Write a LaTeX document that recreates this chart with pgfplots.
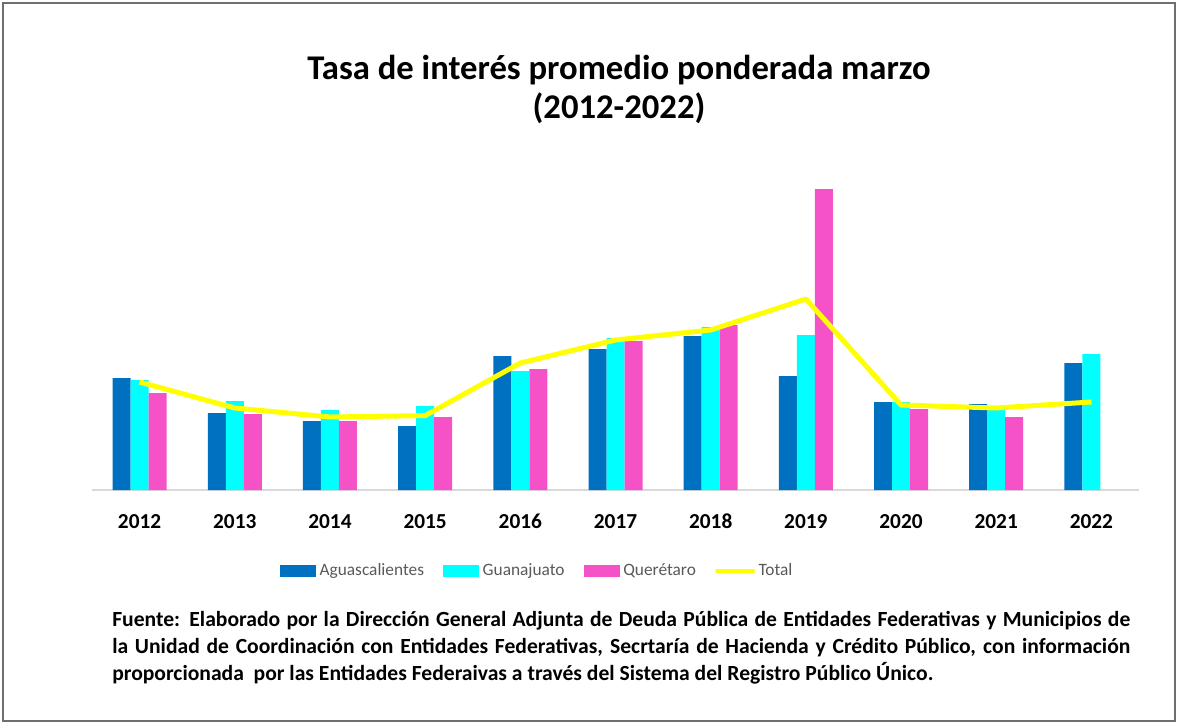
\documentclass[border=0pt]{standalone}
\usepackage{fontspec}
\setmainfont{Carlito}
\usepackage{pgfplots}
\pgfplotsset{compat=1.18}

\definecolor{agu}{HTML}{0070C0}
\definecolor{gua}{HTML}{00FFFF}
\definecolor{que}{HTML}{F652C8}
\definecolor{tot}{HTML}{FFFF00}
\definecolor{basegray}{HTML}{D9D9D9}
\definecolor{framegray}{HTML}{6F6F6F}
\definecolor{legtext}{HTML}{595959}

\begin{document}
\begin{tikzpicture}[x=0.75pt,y=-0.75pt]
% page size and frame (pixel units)
\path (0,0) rectangle (1178,724);
\draw[framegray, line width=1.4pt] (3,3) rectangle (1175,721);

\node[font=\bfseries\fontsize{26}{29.25}\selectfont, align=center] at (619,89)
  {Tasa de interés promedio ponderada marzo\\(2012-2022)};

\begin{axis}[
    at={(69pt,-367.5pt)}, anchor=south west,
    scale only axis, width=785.25pt, height=240pt,
    xmin=-0.5, xmax=10.5, ymin=0, ymax=16,
    axis x line=bottom, axis y line=none,
    x axis line style={-, draw=basegray, line width=1.2pt},
    xtick={0,...,10},
    xticklabels={2012,2013,2014,2015,2016,2017,2018,2019,2020,2021,2022},
    major tick length=0pt,
    typeset ticklabels with strut,
    xticklabel style={font=\bfseries\fontsize{16}{18}\selectfont, yshift=-13pt},
    ytick=\empty,
    clip=false,
    legend columns=4,
    legend style={at={(0.1796,-0.253)}, anchor=west, draw=none, fill=none,
        inner sep=0pt, font=\fontsize{13}{15}\selectfont, text=legtext,
        /tikz/every even column/.append style={column sep=12pt},
        nodes={inner sep=2.5pt}},
]
\addplot[ybar, bar width=13.5pt, bar shift=-13.5pt, fill=agu, draw=none,
    legend image code/.code={\fill[agu] (0pt,-4.5pt) rectangle (27pt,4.5pt);}]
  coordinates {(0,5.60) (1,3.85) (2,3.45) (3,3.20) (4,6.70) (5,7.05)
               (6,7.70) (7,5.70) (8,4.40) (9,4.30) (10,6.35)};
\addplot[ybar, bar width=13.5pt, bar shift=0pt, fill=gua, draw=none,
    legend image code/.code={\fill[gua] (0pt,-4.5pt) rectangle (27pt,4.5pt);}]
  coordinates {(0,5.50) (1,4.45) (2,4.00) (3,4.20) (4,5.95) (5,7.60)
               (6,8.15) (7,7.75) (8,4.40) (9,4.10) (10,6.80)};
\addplot[ybar, bar width=13.5pt, bar shift=13.5pt, fill=que, draw=none,
    legend image code/.code={\fill[que] (0pt,-4.5pt) rectangle (27pt,4.5pt);}]
  coordinates {(0,4.85) (1,3.80) (2,3.45) (3,3.65) (4,6.05) (5,7.45)
               (6,8.25) (7,15.05) (8,4.05) (9,3.65)};
\addplot[tot, line width=3.75pt, line join=round, mark=none,
    legend image code/.code={\draw[tot, line width=3pt, line cap=round] (0pt,0pt) -- (27pt,0pt);}]
  coordinates {(0,5.40) (1,4.10) (2,3.65) (3,3.72) (4,6.35) (5,7.50)
               (6,8.00) (7,9.55) (8,4.25) (9,4.10) (10,4.40)};
\legend{Aguascalientes, Guanajuato, Querétaro, Total}
\end{axis}

\node[anchor=north west, inner sep=0pt, text width=763.5pt, align=justify,
      font=\bfseries\fontsize{16.2}{20.25}\selectfont] at (112,611)
  {Fuente: Elaborado por la Dirección General Adjunta de Deuda Pública de Entidades Federativas y Municipios de\linebreak
   la Unidad de Coordinación con Entidades Federativas, Secrtaría de Hacienda y Crédito Público, con información\linebreak
   proporcionada\ \ por las Entidades\ Federaivas a través del Sistema del Registro Público Único.};
\end{tikzpicture}
\end{document}
